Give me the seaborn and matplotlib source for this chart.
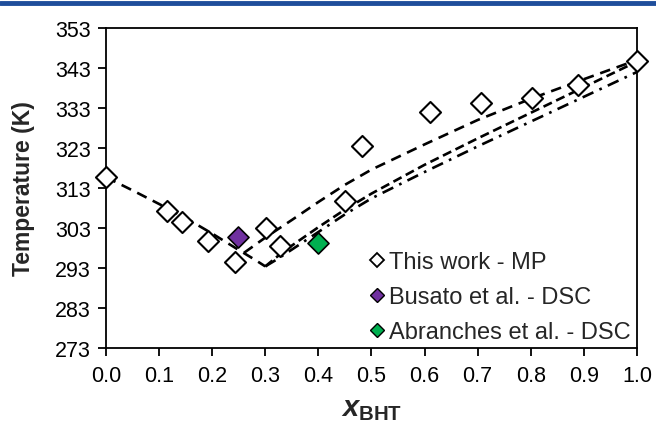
import numpy as np
import pandas as pd
import matplotlib
matplotlib.use("Agg")
import matplotlib.pyplot as plt
import seaborn as sns
from matplotlib.lines import Line2D

# experimental points
x_mp = [0.0, 0.115, 0.143, 0.193, 0.242, 0.302, 0.327, 0.450, 0.482, 0.610, 0.706, 0.802, 0.889, 1.0]
t_mp = [315.7, 307.3, 304.6, 299.8, 294.6, 303.0, 298.6, 309.8, 323.5, 332.0, 334.2, 335.4, 338.7, 344.8]
x_busato = [0.248]
t_busato = [300.8]
x_abr = [0.400]
t_abr = [299.2]

# model curves
x_left = [0.0, 0.05, 0.10, 0.15, 0.20, 0.25, 0.28, 0.30]
t_left = [315.7, 312.4, 309.0, 305.5, 301.6, 297.5, 295.1, 293.4]
x_up = [0.26, 0.30, 0.35, 0.40, 0.45, 0.50, 0.60, 0.70, 0.80, 0.90, 1.0]
t_up = [296.8, 300.6, 305.0, 309.5, 313.8, 317.6, 323.9, 330.0, 335.3, 340.2, 345.0]
x_low = [0.30, 0.32, 0.35, 0.40, 0.45, 0.50, 0.60, 0.70, 0.80, 0.90, 1.0]
t_low = [293.4, 295.6, 298.6, 303.2, 307.6, 311.6, 318.8, 325.4, 331.8, 338.2, 344.6]
x_dd = [0.30, 0.32, 0.35, 0.40, 0.45, 0.50, 0.60, 0.70, 0.80, 0.90, 1.0]
t_dd = [293.4, 295.0, 297.6, 302.0, 306.4, 310.4, 317.0, 323.4, 329.6, 335.8, 342.0]

sns.set_style("ticks")
plt.rcParams.update({
    "font.family": ["Liberation Sans", "DejaVu Sans"],
    "mathtext.fontset": "custom",
    "mathtext.it": "Liberation Sans:italic:bold",
    "mathtext.bf": "Liberation Sans:bold",
    "mathtext.rm": "Liberation Sans:bold",
})

fig = plt.figure(figsize=(6.56, 4.27), dpi=100)
ax = fig.add_axes([0.1616, 0.1827, 0.8094, 0.7494])

# top blue band
fig.add_artist(Line2D([0, 1], [0.991, 0.991], transform=fig.transFigure, color="#1F4E9B", lw=3.5))

lw = 1.9
sns.lineplot(x=x_left, y=t_left, ax=ax, color="black", lw=lw, sort=False)
ax.lines[-1].set_dashes([4, 2.6])
sns.lineplot(x=x_up, y=t_up, ax=ax, color="black", lw=lw, sort=False)
ax.lines[-1].set_dashes([4, 2.6])
sns.lineplot(x=x_low, y=t_low, ax=ax, color="black", lw=lw, sort=False)
ax.lines[-1].set_dashes([3.5, 1.8])
sns.lineplot(x=x_dd, y=t_dd, ax=ax, color="black", lw=lw, sort=False)
ax.lines[-1].set_dashes([4.5, 2.5, 1, 2.5])

ms = 115
for xs, ts, fc, ew in [(x_mp, t_mp, "white", 1.5), (x_busato, t_busato, "#7030A0", 1.2),
                       (x_abr, t_abr, "#00B050", 1.2)]:
    sns.scatterplot(x=xs, y=ts, ax=ax, marker="D", s=ms, color=fc,
                    edgecolor="black", linewidth=ew, zorder=5, clip_on=False)

ax.set_xlim(0, 1.0)
ax.set_ylim(273, 353)
ax.set_xticks(np.arange(0, 1.01, 0.1))
ax.set_xticklabels([f"{v:.1f}" for v in np.arange(0, 1.01, 0.1)])
ax.set_yticks(np.arange(273, 354, 10))
for s in ax.spines.values():
    s.set_linewidth(1.3)
    s.set_color("black")
ax.tick_params(direction="out", length=6, width=1.3, labelsize=15.5, colors="black", pad=5)
ax.tick_params(axis="x", pad=6)

ax.set_ylabel("Temperature (K)", fontsize=16.5, fontweight="bold", labelpad=14)
ax.set_xlabel(r"$x_{\mathbf{BHT}}$", fontsize=21, labelpad=6)

handles = [
    Line2D([], [], ls="none", marker="D", ms=7, mfc="white", mec="black", mew=1.3),
    Line2D([], [], ls="none", marker="D", ms=7, mfc="#7030A0", mec="black", mew=1.0),
    Line2D([], [], ls="none", marker="D", ms=7, mfc="#00B050", mec="black", mew=1.0),
]
labels = ["This work - MP", "Busato et al. - DSC", "Abranches et al. - DSC"]
ax.legend(handles, labels, loc="lower right", frameon=False, fontsize=17,
          handlelength=0.6, handletextpad=0.2, labelspacing=0.55,
          borderaxespad=0.0, bbox_to_anchor=(1.005, -0.015))

fig.savefig("out.png", dpi=100)
